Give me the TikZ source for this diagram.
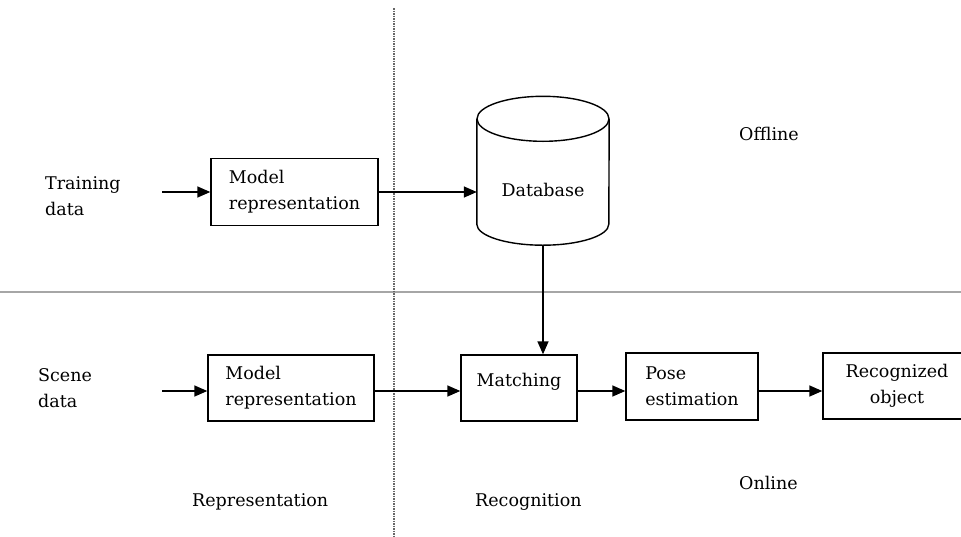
\documentclass[tikz,border=0pt]{standalone}
\usepackage{fontspec}
\setmainfont{DejaVu Serif}
\usetikzlibrary{arrows.meta}
\begin{document}
\begin{tikzpicture}[x=1pt,y=-1pt,
  every node/.style={font=\fontsize{17.5}{26}\selectfont, inner sep=0pt},
  box/.style={draw, line width=1.4pt, align=left, minimum height=66pt},
  txt/.style={align=left},
  arr/.style={line width=1.5pt, -{Triangle[length=13pt,width=11pt]}},
  sepline/.style={gray!70, line width=1.6pt},
  dotline/.style={black!60, line width=2pt, dash pattern=on 1.5pt off 1pt}]
\useasboundingbox (0,0) rectangle (961,536);
\clip (0,0) rectangle (961,536);

% separators
\coordinate (hl) at (0,292);
\coordinate (hr) at (961,292);
\coordinate (vt) at (393.5,8);
\coordinate (vb) at (393.5,536);
\draw[sepline] (hl) -- (hr);
\draw[dotline] (vt) -- (vb);

% top row
\node[txt, anchor=west] (train) at (45,196) {Training\\data};
\node[box, minimum width=167pt, minimum height=67pt] (mr1) at (294.5,192) {Model\\representation};

% database cylinder
\node[minimum width=132pt, minimum height=105pt] (db) at (543,171.5) {};
\draw[line width=1.4pt] (db.north west) -- (db.south west)
   arc[start angle=180, end angle=0, x radius=66, y radius=21] -- (db.north east);
\draw[line width=1.4pt] (db.north) ellipse [x radius=66, y radius=22.5];
\node (dbl) at (543,190) {Database};
\coordinate (dbbot) at (543,245.5);

% bottom row
\node[txt, anchor=west] (scene) at (38,388) {Scene\\data};
\node[box, minimum width=166pt] (mr2) at (291,388) {Model\\representation};
\node[box, minimum width=116pt, text height=13pt, text depth=17pt] (match) at (519,388) {Matching};
\node[box, minimum width=132pt, minimum height=67pt] (pose) at (692,386.5) {Pose\\estimation};
\node[box, minimum width=148pt, align=center] (rec) at (897,386) {Recognized\\object};

% connectors
\coordinate (tstart) at (162,192);
\coordinate (sstart) at (162,391);
\coordinate (row) at (0,391);
\draw[arr] (tstart) -- (tstart -| mr1.west);
\draw[arr] (mr1.east) -- (mr1.east -| db.west);
\draw[arr] (dbbot) -- (dbbot |- match.north);
\draw[arr] (sstart) -- (sstart -| mr2.west);
\draw[arr] (mr2.east |- row) -- (match.west |- row);
\draw[arr] (match.east |- row) -- (pose.west |- row);
\draw[arr] (pose.east |- row) -- (rec.west |- row);

% region labels
\node[anchor=base west] (offline) at (739,140) {Offline};
\node[anchor=base west] (online) at (739,489) {Online};
\node[anchor=base west] (reprl) at (192,506) {Representation};
\node[anchor=base west] (recogl) at (475,506) {Recognition};
\end{tikzpicture}
\end{document}
